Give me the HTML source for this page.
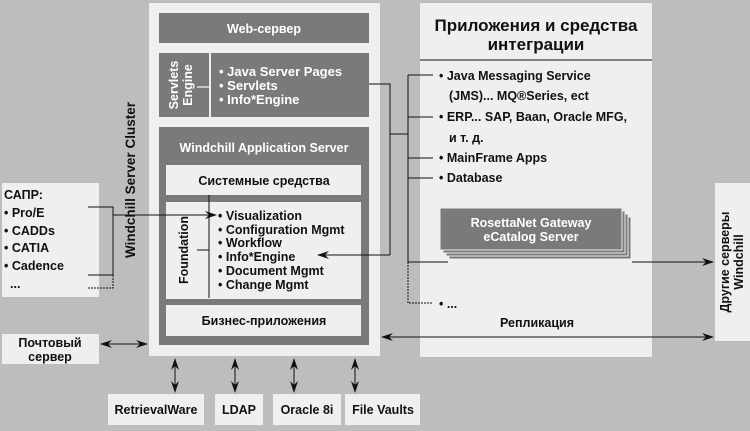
<!DOCTYPE html>
<html><head><meta charset="utf-8"><style>
body{margin:0;background:#bdbdbd}
svg{display:block}
text{font-family:"Liberation Sans",sans-serif;font-weight:bold;font-size:12.5px;fill:#111}
.w{fill:#fff}
.t{font-size:17px}
</style></head><body>
<svg width="750" height="431" viewBox="0 0 750 431" xmlns="http://www.w3.org/2000/svg">
<defs>
<marker id="a" markerWidth="12" markerHeight="8" refX="11" refY="4" orient="auto-start-reverse" markerUnits="userSpaceOnUse"><path d="M0,0 L12,4 L0,8 L4,4 z" fill="#111"/></marker>
</defs>
<rect width="750" height="431" fill="#bdbdbd"/>
<rect x="149" y="3" width="231" height="353" fill="#efefef"/>
<rect x="159" y="13" width="210" height="30" fill="#7a7a7a"/>
<text x="264" y="33" text-anchor="middle" class="w">Web-сервер</text>
<rect x="159" y="53" width="50" height="64" fill="#7a7a7a"/>
<rect x="211" y="53" width="158" height="64" fill="#7a7a7a"/>
<line x1="197" y1="87" x2="209" y2="87" stroke="#ddd" stroke-width="1.5"/>
<text transform="translate(178,85) rotate(-90)" text-anchor="middle" class="w">Servlets</text>
<text transform="translate(192,85) rotate(-90)" text-anchor="middle" class="w">Engine</text>
<text x="219" y="76" class="w" style="font-size:13px">• Java Server Pages</text>
<text x="219" y="90" class="w" style="font-size:13px">• Servlets</text>
<text x="219" y="104" class="w" style="font-size:13px">• Info*Engine</text>
<rect x="159" y="127" width="210" height="218" fill="#7a7a7a"/>
<text x="264" y="152" text-anchor="middle" class="w">Windchill Application Server</text>
<rect x="166" y="165" width="195" height="30" fill="#efefef"/>
<text x="264" y="185" text-anchor="middle">Системные средства</text>
<rect x="166" y="202" width="195" height="97" fill="#efefef"/>
<line x1="209" y1="202" x2="209" y2="298" stroke="#111"/>
<line x1="197" y1="250" x2="209" y2="250" stroke="#111"/>
<text transform="translate(188,250) rotate(-90)" text-anchor="middle">Foundation</text>
<text x="218" y="220">• Visualization</text>
<text x="218" y="234">• Configuration Mgmt</text>
<text x="218" y="247">• Workflow</text>
<text x="218" y="261">• Info*Engine</text>
<text x="218" y="275">• Document Mgmt</text>
<text x="218" y="289">• Change Mgmt</text>
<rect x="166" y="305" width="195" height="31" fill="#efefef"/>
<text x="264" y="325" text-anchor="middle">Бизнес-приложения</text>
<text transform="translate(135,180) rotate(-90)" text-anchor="middle" style="font-size:13.5px">Windchill Server Cluster</text>
<rect x="2" y="183" width="97" height="114" fill="#efefef"/>
<text x="4" y="199">САПР:</text>
<text x="4" y="217">• Pro/E</text>
<text x="4" y="235">• CADDs</text>
<text x="4" y="252">• CATIA</text>
<text x="4" y="270">• Cadence</text>
<text x="10" y="288">...</text>
<path d="M88,207 H113 V275 M88,275 H113" stroke="#111" fill="none"/>
<path d="M88,288 H113 V275" stroke="#111" fill="none" stroke-dasharray="2,1"/>
<line x1="113" y1="215" x2="216" y2="215" stroke="#111" marker-end="url(#a)"/>
<line x1="209" y1="195" x2="209" y2="215" stroke="#111"/>
<rect x="2" y="334" width="97" height="30" fill="#efefef"/>
<text x="50" y="347" text-anchor="middle">Почтовый</text>
<text x="50" y="361" text-anchor="middle">сервер</text>
<line x1="101" y1="344" x2="147" y2="344" stroke="#111" marker-start="url(#a)" marker-end="url(#a)"/>
<rect x="108" y="394" width="96" height="31" fill="#efefef"/>
<text x="156" y="414" text-anchor="middle">RetrievalWare</text>
<rect x="215" y="394" width="48" height="31" fill="#efefef"/>
<text x="239" y="414" text-anchor="middle">LDAP</text>
<rect x="273" y="394" width="68" height="31" fill="#efefef"/>
<text x="307" y="414" text-anchor="middle">Oracle 8i</text>
<rect x="345" y="394" width="75" height="31" fill="#efefef"/>
<text x="383" y="414" text-anchor="middle">File Vaults</text>
<g stroke="#111" marker-start="url(#a)" marker-end="url(#a)">
<line x1="175" y1="359" x2="175" y2="392"/>
<line x1="235" y1="359" x2="235" y2="392"/>
<line x1="294" y1="359" x2="294" y2="392"/>
<line x1="355" y1="359" x2="355" y2="392"/>
</g>
<rect x="420" y="3" width="232" height="354" fill="#efefef"/>
<text x="536" y="31" text-anchor="middle" class="t">Приложения и средства</text>
<text x="536" y="50" text-anchor="middle" class="t">интеграции</text>
<line x1="420" y1="60" x2="652" y2="60" stroke="#111"/>
<text x="439" y="80">• Java Messaging Service</text>
<text x="449" y="100">(JMS)... MQ®Series, ect</text>
<text x="439" y="121">• ERP... SAP, Baan, Oracle MFG,</text>
<text x="449" y="142">и т. д.</text>
<text x="439" y="162">• MainFrame Apps</text>
<text x="439" y="182">• Database</text>
<text x="439" y="308">• ...</text>
<path d="M369,84 H390 V255 M390,134 H408 M408,75 V262 M408,75 H433 M408,117 H433 M408,158 H433 M408,178 H433" stroke="#111" fill="none"/>
<line x1="390" y1="255" x2="318" y2="255" stroke="#111" marker-end="url(#a)"/>
<path d="M408,262 V303 H433" stroke="#111" fill="none" stroke-dasharray="2,1"/>
<rect x="449" y="217" width="182" height="42" fill="#7a7a7a" stroke="#efefef"/>
<rect x="446" y="214" width="182" height="42" fill="#7a7a7a" stroke="#efefef"/>
<rect x="443" y="211" width="182" height="42" fill="#7a7a7a" stroke="#efefef"/>
<rect x="440" y="208" width="182" height="42" fill="#7a7a7a" stroke="#efefef"/>
<text x="531" y="227" text-anchor="middle" class="w">RosettaNet Gateway</text>
<text x="531" y="241" text-anchor="middle" class="w">eCatalog Server</text>
<line x1="408" y1="262" x2="448" y2="262" stroke="#111"/>
<line x1="632" y1="262" x2="713" y2="262" stroke="#111" marker-end="url(#a)"/>
<text x="537" y="327" text-anchor="middle">Репликация</text>
<line x1="382" y1="337" x2="713" y2="337" stroke="#111" marker-start="url(#a)" marker-end="url(#a)"/>
<rect x="715" y="183" width="35" height="158" fill="#efefef"/>
<text transform="translate(729,262) rotate(-90)" text-anchor="middle">Другие серверы</text>
<text transform="translate(743,262) rotate(-90)" text-anchor="middle">Windchill</text>
</svg>
</body></html>
